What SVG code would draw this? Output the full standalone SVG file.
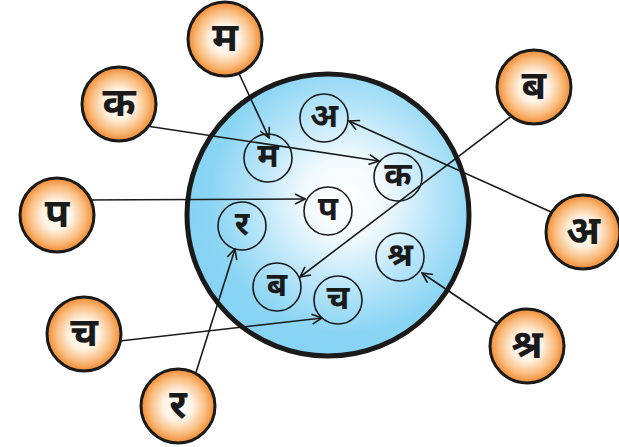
<svg xmlns="http://www.w3.org/2000/svg" width="619" height="447" viewBox="0 0 619 447">
<defs>
<radialGradient id="blue" cx="0.56" cy="0.44" r="0.56">
<stop offset="0" stop-color="#ffffff"/>
<stop offset="0.25" stop-color="#f2fafe"/>
<stop offset="0.6" stop-color="#b3e3f8"/>
<stop offset="0.85" stop-color="#8bd5f4"/>
<stop offset="1" stop-color="#86d3f3"/>
</radialGradient>
<radialGradient id="orange" cx="0.5" cy="0.5" r="0.5">
<stop offset="0" stop-color="#ffffff"/>
<stop offset="0.4" stop-color="#fff2e4"/>
<stop offset="0.75" stop-color="#f9bd80"/>
<stop offset="1" stop-color="#f28a30"/>
</radialGradient>
<marker id="arr" viewBox="0 0 12 12" refX="11" refY="6" markerWidth="12" markerHeight="12" markerUnits="userSpaceOnUse" orient="auto">
<path d="M1,1 L11,6 L1,11" fill="none" stroke="#1a1a1a" stroke-width="1.6"/>
</marker>
</defs>
<style>
.outer{fill:url(#orange);stroke:#1a1a1a;stroke-width:3}
.inner{fill:none;stroke:#1a1a1a;stroke-width:1.6}
.lbl{font-family:"Noto Sans Devanagari","Noto Sans",sans-serif;font-weight:bold;fill:#1a1a1a;text-anchor:middle;dominant-baseline:central}
.big{font-size:40px}
.small{font-size:33px}
.conn line{stroke:#1a1a1a;stroke-width:1.6;marker-end:url(#arr)}
</style>
<g id="container">
<circle cx="328" cy="215" r="141" fill="url(#blue)" stroke="#1a1a1a" stroke-width="5"/>
</g>
<g id="inner-a"><circle class="inner" cx="324" cy="118" r="24"/><text class="lbl small" x="324" y="118">अ</text></g>
<g id="inner-ma"><circle class="inner" cx="268" cy="158" r="24"/><text class="lbl small" x="268" y="158">म</text></g>
<g id="inner-ka"><circle class="inner" cx="398" cy="177" r="24"/><text class="lbl small" x="398" y="177">क</text></g>
<g id="inner-pa"><circle class="inner" cx="328" cy="211" r="24"/><text class="lbl small" x="328" y="211">प</text></g>
<g id="inner-ra"><circle class="inner" cx="242" cy="226" r="24"/><text class="lbl small" x="242" y="226">र</text></g>
<g id="inner-shra"><circle class="inner" cx="400" cy="257" r="24"/><text class="lbl small" x="400" y="257">श्र</text></g>
<g id="inner-ba"><circle class="inner" cx="277" cy="287" r="24"/><text class="lbl small" x="277" y="287">ब</text></g>
<g id="inner-cha"><circle class="inner" cx="338" cy="300" r="24"/><text class="lbl small" x="338" y="300">च</text></g>
<g class="conn" id="connectors">
<line x1="236" y1="67" x2="269" y2="138"/>
<line x1="140" y1="125" x2="379" y2="161"/>
<line x1="80" y1="200" x2="305" y2="199"/>
<line x1="111" y1="342" x2="322" y2="318"/>
<line x1="192" y1="385" x2="235" y2="249"/>
<line x1="521" y1="109" x2="300" y2="277"/>
<line x1="560" y1="216" x2="349" y2="121"/>
<line x1="505" y1="329" x2="422" y2="273"/>
</g>
<g id="outer-ma"><circle class="outer" cx="225" cy="39" r="37"/><text class="lbl big" x="225" y="41">म</text></g>
<g id="outer-ka"><circle class="outer" cx="119" cy="104" r="37"/><text class="lbl big" x="119" y="106">क</text></g>
<g id="outer-pa"><circle class="outer" cx="57" cy="215" r="37"/><text class="lbl big" x="57" y="217">प</text></g>
<g id="outer-cha"><circle class="outer" cx="84" cy="334" r="37"/><text class="lbl big" x="84" y="336">च</text></g>
<g id="outer-ra"><circle class="outer" cx="178" cy="406" r="37"/><text class="lbl big" x="178" y="408">र</text></g>
<g id="outer-ba"><circle class="outer" cx="534" cy="87" r="37"/><text class="lbl big" x="534" y="89">ब</text></g>
<g id="outer-a"><circle class="outer" cx="583" cy="232" r="37"/><text class="lbl big" x="583" y="234">अ</text></g>
<g id="outer-shra"><circle class="outer" cx="527" cy="346" r="37"/><text class="lbl big" x="527" y="348">श्र</text></g>
</svg>
